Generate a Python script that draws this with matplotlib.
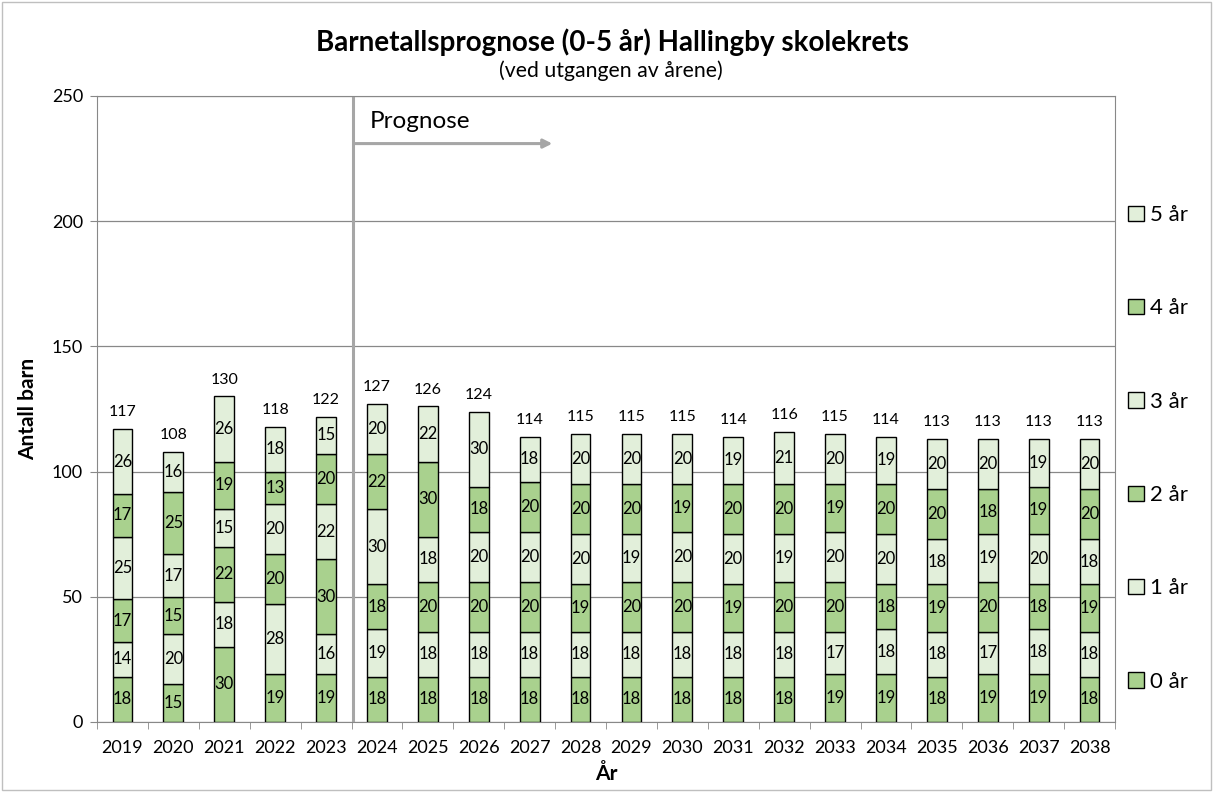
import numpy as np
import matplotlib.pyplot as plt
from matplotlib.patches import Rectangle

plt.rcParams['font.family'] = ['Lato', 'DejaVu Sans']

# data
aar = ["2019", "2020", "2021", "2022", "2023", "2024", "2025", "2026", "2027", "2028",
       "2029", "2030", "2031", "2032", "2033", "2034", "2035", "2036", "2037", "2038"]
aar0 = [18, 15, 30, 19, 19, 18, 18, 18, 18, 18, 18, 18, 18, 18, 19, 19, 18, 19, 19, 18]
aar1 = [14, 20, 18, 28, 16, 19, 18, 18, 18, 18, 18, 18, 18, 18, 17, 18, 18, 17, 18, 18]
aar2 = [17, 15, 22, 20, 30, 18, 20, 20, 20, 19, 20, 20, 19, 20, 20, 18, 19, 20, 18, 19]
aar3 = [25, 17, 15, 20, 22, 30, 18, 20, 20, 20, 19, 20, 20, 19, 20, 20, 18, 19, 20, 18]
aar4 = [17, 25, 19, 13, 20, 22, 30, 18, 20, 20, 20, 19, 20, 20, 19, 20, 20, 18, 19, 20]
aar5 = [26, 16, 26, 18, 15, 20, 22, 30, 18, 20, 20, 20, 19, 21, 20, 19, 20, 20, 19, 20]
serier = ["0 år", "1 år", "2 år", "3 år", "4 år", "5 år"]

mork = "#A9D18E"
lys = "#E2EFDA"
farger = [mork, lys, mork, lys, mork, lys]

fig = plt.figure(figsize=(12.13, 7.92), dpi=100)
ax = fig.add_axes([97 / 1213, 70 / 792, 1018 / 1213, 626 / 792])

x = np.arange(len(aar))
bunn = np.zeros(len(aar))
handles = []
for verdier, navn, farge in zip([aar0, aar1, aar2, aar3, aar4, aar5], serier, farger):
    v = np.array(verdier)
    b = ax.bar(x, v, 0.39, bottom=bunn, color=farge, edgecolor="black", linewidth=1, label=navn, zorder=3)
    handles.append(b)
    for xi, yi, vi in zip(x, bunn, v):
        ax.text(xi, yi + vi / 2, str(vi), ha="center", va="center", fontsize=12, zorder=4)
    bunn = bunn + v

for xi, tot in zip(x, bunn):
    ax.annotate(str(int(tot)), (xi, tot), xytext=(0, 7), textcoords="offset points",
                ha="center", va="bottom", fontsize=11.5)

ax.set_xlim(-0.5, len(aar) - 0.5)
ax.set_ylim(0, 250)
ax.set_yticks([0, 50, 100, 150, 200, 250])
ax.set_xticks(x)
ax.set_xticklabels(aar, fontsize=13)
ax.tick_params(axis="y", labelsize=13, length=5, color="#888888", pad=5)
ax.tick_params(axis="x", length=0, pad=13)
ax.set_xticks(np.arange(-0.5, len(aar), 1), minor=True)
ax.tick_params(axis="x", which="minor", length=5, color="#888888")
ax.grid(axis="y", color="#888888", linewidth=0.9, zorder=0)
for s in ax.spines.values():
    s.set_color("#888888")

ax.set_ylabel("Antall barn", fontsize=15, fontweight="bold", labelpad=10)
ax.set_xlabel("År", fontsize=15, fontweight="bold", labelpad=6)

# prognose-markering
ax.axvline(4.52, color="#A6A6A6", linewidth=2.2, zorder=2)
ax.annotate("", xy=(8.5, 231), xytext=(4.52, 231),
            arrowprops=dict(arrowstyle="-|>", color="#A6A6A6", lw=2.2, mutation_scale=13))
ax.text(4.86, 240, "Prognose", fontsize=17.5, ha="left", va="center")

fig.text(612 / 1213, 1 - 42 / 792, "Barnetallsprognose (0-5 år) Hallingby skolekrets",
         fontsize=20, fontweight="bold", ha="center", va="center")
fig.text(611 / 1213, 1 - 71 / 792, "(ved utgangen av årene)", fontsize=15.3, ha="center", va="center")

leg = ax.legend(handles[::-1], serier[::-1], loc="center left", bbox_to_anchor=(1.013, 0.437),
                frameon=False, fontsize=16, handlelength=0.7, handleheight=0.7,
                handletextpad=0.3, labelspacing=3.3, borderaxespad=0, borderpad=0)

fig.patches.append(Rectangle((0.002, 0.002), 0.996, 0.996, transform=fig.transFigure,
                             fill=False, edgecolor="#BFBFBF", linewidth=1))

fig.savefig("out.png", dpi=100)
